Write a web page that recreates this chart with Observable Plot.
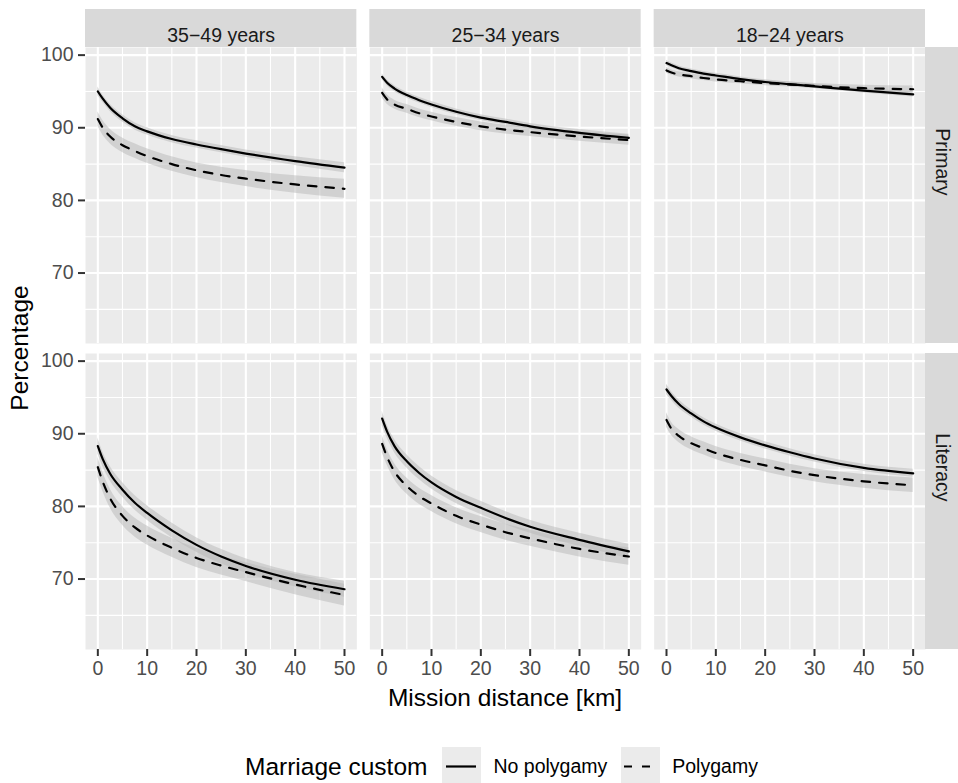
<!DOCTYPE html>
<html>
<head>
<meta charset="utf-8">
<script src="https://cdn.jsdelivr.net/npm/d3@7"></script>
<script src="https://cdn.jsdelivr.net/npm/@observablehq/plot@0.6"></script>
<style>
  body { margin: 0; background: #fff; font-family: "Liberation Sans", Arial, sans-serif; }
  #wrap { position: relative; width: 958px; height: 783px; overflow: hidden; background: #fff; }
  #legend { position: absolute; left: 245px; top: 747px; height: 39px; display: flex; align-items: center; color: #000; }
  #legend .title { font-size: 24.5px; margin-right: 15px; }
  #legend .lab { font-size: 19.5px; margin-left: 12px; margin-right: 14px; color: #000; }
  #legend svg { display: block; }
</style>
</head>
<body>
<div id="wrap"><div id="chart"></div><div id="legend"></div></div>
<script>
// ---- data ----
const distance = [0, 1, 2.5, 5, 7.5, 10, 15, 20, 25, 30, 40, 50];
const ages = ["35−49 years", "25−34 years", "18−24 years"];
const outcomes = ["Primary", "Literacy"];
const customs = ["No polygamy", "Polygamy"];
const xTicks = [0, 10, 20, 30, 40, 50];
const xMinor = [5, 15, 25, 35, 45];
const yTicks = [70, 80, 90, 100];
const yMinor = [65, 75, 85, 95];

// Primary, 35-49
const primary_3549_none = [95.0, 94.0, 92.75, 91.3, 90.2, 89.5, 88.45, 87.7, 87.05, 86.45, 85.4, 84.5];
const primary_3549_none_band = [0.6, 0.5, 0.5, 0.5, 0.5, 0.5, 0.5, 0.5, 0.5, 0.5, 0.6, 0.7];
const primary_3549_poly = [91.2, 90.0, 88.8, 87.6, 86.8, 86.1, 85.0, 84.15, 83.5, 83.0, 82.2, 81.6];
const primary_3549_poly_band = [1.0, 1.0, 1.0, 1.0, 1.0, 1.0, 1.0, 1.0, 1.05, 1.1, 1.2, 1.3];
// Primary, 25-34
const primary_2534_none = [97.0, 96.2, 95.4, 94.5, 93.8, 93.2, 92.2, 91.4, 90.8, 90.2, 89.3, 88.6];
const primary_2534_none_band = [0.4, 0.4, 0.4, 0.4, 0.4, 0.4, 0.4, 0.4, 0.4, 0.4, 0.45, 0.5];
const primary_2534_poly = [94.8, 93.9, 93.2, 92.6, 92.0, 91.55, 90.8, 90.2, 89.75, 89.4, 88.8, 88.3];
const primary_2534_poly_band = [0.7, 0.65, 0.6, 0.6, 0.6, 0.6, 0.6, 0.6, 0.6, 0.6, 0.65, 0.7];
// Primary, 18-24
const primary_1824_none = [98.9, 98.6, 98.2, 97.8, 97.45, 97.2, 96.7, 96.3, 96.0, 95.7, 95.1, 94.6];
const primary_1824_none_band = [0.35, 0.3, 0.3, 0.3, 0.3, 0.3, 0.3, 0.3, 0.3, 0.3, 0.3, 0.35];
const primary_1824_poly = [97.9, 97.6, 97.35, 97.1, 96.85, 96.65, 96.4, 96.15, 95.95, 95.75, 95.45, 95.3];
const primary_1824_poly_band = [0.4, 0.35, 0.35, 0.35, 0.35, 0.35, 0.35, 0.35, 0.35, 0.35, 0.4, 0.45];
// Literacy, 35-49
const literacy_3549_none = [88.3, 86.5, 84.5, 82.3, 80.5, 79.1, 76.7, 74.7, 73.1, 71.8, 69.9, 68.6];
const literacy_3549_none_band = [1.1, 1.0, 1.0, 1.0, 1.0, 1.0, 1.0, 1.0, 1.0, 1.0, 1.0, 1.1];
const literacy_3549_poly = [85.4, 83.4, 81.1, 78.7, 77.1, 76.0, 74.3, 72.9, 71.85, 70.95, 69.25, 67.8];
const literacy_3549_poly_band = [1.4, 1.3, 1.3, 1.3, 1.3, 1.3, 1.3, 1.3, 1.3, 1.3, 1.4, 1.5];
// Literacy, 25-34
const literacy_2534_none = [92.1, 90.3, 88.3, 86.2, 84.6, 83.3, 81.3, 79.8, 78.4, 77.2, 75.4, 73.8];
const literacy_2534_none_band = [1.0, 0.9, 0.9, 0.9, 0.9, 0.9, 0.9, 0.9, 0.9, 0.9, 0.9, 1.0];
const literacy_2534_poly = [88.6, 86.8, 84.8, 82.8, 81.4, 80.4, 78.7, 77.5, 76.45, 75.6, 74.15, 73.1];
const literacy_2534_poly_band = [1.2, 1.1, 1.1, 1.1, 1.1, 1.1, 1.1, 1.1, 1.1, 1.1, 1.1, 1.2];
// Literacy, 18-24
const literacy_1824_none = [96.1, 95.2, 94.1, 92.8, 91.7, 90.85, 89.5, 88.4, 87.45, 86.6, 85.3, 84.55];
const literacy_1824_none_band = [0.7, 0.6, 0.6, 0.5, 0.5, 0.5, 0.5, 0.5, 0.5, 0.5, 0.5, 0.55];
const literacy_1824_poly = [91.9, 90.7, 89.7, 88.7, 88.0, 87.35, 86.4, 85.65, 84.9, 84.3, 83.45, 82.9];
const literacy_1824_poly_band = [1.0, 0.9, 0.9, 0.9, 0.9, 0.9, 0.9, 0.9, 0.9, 0.9, 0.95, 1.0];

// ---- assemble table ----
const panels = [
  [ages[0], "Primary", primary_3549_none, primary_3549_none_band, primary_3549_poly, primary_3549_poly_band],
  [ages[1], "Primary", primary_2534_none, primary_2534_none_band, primary_2534_poly, primary_2534_poly_band],
  [ages[2], "Primary", primary_1824_none, primary_1824_none_band, primary_1824_poly, primary_1824_poly_band],
  [ages[0], "Literacy", literacy_3549_none, literacy_3549_none_band, literacy_3549_poly, literacy_3549_poly_band],
  [ages[1], "Literacy", literacy_2534_none, literacy_2534_none_band, literacy_2534_poly, literacy_2534_poly_band],
  [ages[2], "Literacy", literacy_1824_none, literacy_1824_none_band, literacy_1824_poly, literacy_1824_poly_band]
];
const rows = [];
for (const [age, outcome, none, noneBand, poly, polyBand] of panels) {
  distance.forEach((x, i) => {
    rows.push({age, outcome, custom: customs[0], x, y: none[i], lo: none[i] - noneBand[i], hi: none[i] + noneBand[i]});
  });
  distance.forEach((x, i) => {
    rows.push({age, outcome, custom: customs[1], x, y: poly[i], lo: poly[i] - polyBand[i], hi: poly[i] + polyBand[i]});
  });
}
const stripTop = ages.map(age => ({age, outcome: outcomes[0]}));
const stripRight = outcomes.map(outcome => ({age: ages[2], outcome}));

// ---- layout ----
const panelW = 271.33, panelH = 296, gapX = 13, gapY = 10;
const mL = 85, mT = 47, mR = 33, mB = 81;
const W = 958, H = mT + 2 * panelH + gapY + mB;
const stripH = 38, stripW = 33;
const font = '"Liberation Sans", Arial, sans-serif';

const chart = Plot.plot({
  width: W, height: H,
  marginLeft: mL, marginTop: mT, marginRight: mR, marginBottom: mB,
  style: {background: "white", fontFamily: font, overflow: "visible"},
  fx: {domain: ages, axis: null, paddingInner: gapX / (panelW + gapX), paddingOuter: 0, round: false},
  fy: {domain: outcomes, axis: null, paddingInner: gapY / (panelH + gapY), paddingOuter: 0, round: false},
  x: {domain: [-2.5, 52.5]},
  y: {domain: [60.3, 101.05]},
  marks: [
    Plot.frame({fill: "#ebebeb", stroke: "none"}),
    Plot.gridX({ticks: xMinor, stroke: "white", strokeOpacity: 1, strokeWidth: 1.1}),
    Plot.gridY({ticks: yMinor, stroke: "white", strokeOpacity: 1, strokeWidth: 1.1}),
    Plot.gridX({ticks: xTicks, stroke: "white", strokeOpacity: 1, strokeWidth: 2.1}),
    Plot.gridY({ticks: yTicks, stroke: "white", strokeOpacity: 1, strokeWidth: 2.1}),
    Plot.areaY(rows, {fx: "age", fy: "outcome", x: "x", y1: "lo", y2: "hi", z: "custom",
      fill: "#b8b8b8", fillOpacity: 0.5, curve: "monotone-x"}),
    Plot.line(rows.filter(d => d.custom === customs[0]), {fx: "age", fy: "outcome", x: "x", y: "y",
      stroke: "black", strokeWidth: 2.2, curve: "monotone-x"}),
    Plot.line(rows.filter(d => d.custom === customs[1]), {fx: "age", fy: "outcome", x: "x", y: "y",
      stroke: "black", strokeWidth: 2.2, strokeDasharray: "8.5,9", curve: "monotone-x"}),
    Plot.axisX({ticks: xTicks, tickSize: 7, tickPadding: 5, fontSize: 19.5, fill: "#4d4d4d",
      stroke: "#333", strokeWidth: 2, label: null, tickFormat: d => String(d)}),
    Plot.axisY({ticks: yTicks, tickSize: 7, tickPadding: 5, fontSize: 19.5, fill: "#4d4d4d",
      stroke: "#333", strokeWidth: 2, label: null, tickFormat: d => String(d)}),
    Plot.rect(stripTop, {fx: "age", fy: "outcome", fill: "#d9d9d9", insetTop: -stripH, insetBottom: panelH}),
    Plot.text(stripTop, {fx: "age", fy: "outcome", text: "age", frameAnchor: "top", dy: -stripH / 2,
      fontSize: 19.5, fill: "#1a1a1a"}),
    Plot.rect(stripRight, {fx: "age", fy: "outcome", fill: "#d9d9d9", insetLeft: panelW, insetRight: -stripW}),
    Plot.text(stripRight, {fx: "age", fy: "outcome", text: "outcome", frameAnchor: "right", dx: stripW / 2,
      rotate: 90, fontSize: 19.5, fill: "#1a1a1a"})
  ]
});
document.getElementById("chart").appendChild(chart);

// axis titles
const svg = d3.select(chart);
svg.append("text")
  .attr("x", mL + (W - mL - mR) / 2).attr("y", 697)
  .attr("text-anchor", "middle").attr("dominant-baseline", "central")
  .attr("font-size", 24.5).attr("fill", "black").text("Mission distance [km]");
svg.append("text")
  .attr("transform", `translate(19,${mT + panelH + gapY / 2}) rotate(-90)`)
  .attr("text-anchor", "middle").attr("dominant-baseline", "central")
  .attr("font-size", 24.5).attr("fill", "black").text("Percentage");

// legend
const legend = d3.select("#legend");
legend.append("span").attr("class", "title").text("Marriage custom");
customs.forEach((c, i) => {
  const s = legend.append("svg").attr("width", 39).attr("height", 39);
  s.append("rect").attr("width", 39).attr("height", 39).attr("fill", "#ebebeb");
  s.append("line").attr("x1", i ? 3 : 4).attr("x2", i ? 36 : 34).attr("y1", 19.5).attr("y2", 19.5)
    .attr("stroke", "black").attr("stroke-width", 2.2)
    .attr("stroke-dasharray", i ? "8,10" : null);
  legend.append("span").attr("class", "lab").text(c);
});
</script>
</body>
</html>
